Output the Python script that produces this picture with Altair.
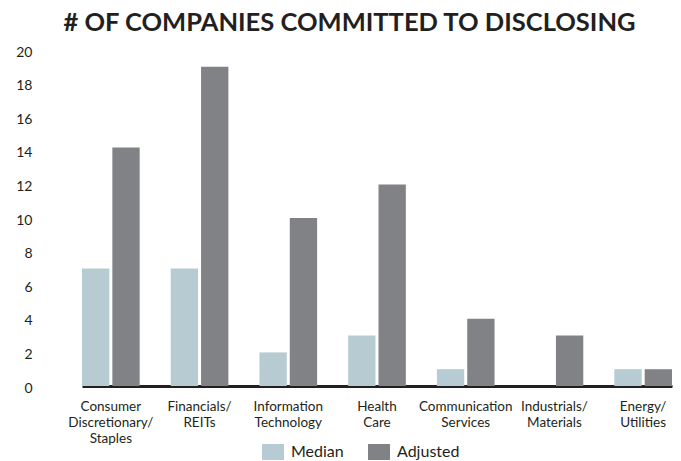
import altair as alt
import pandas as pd

categories = [
    "Consumer\nDiscretionary/\nStaples",
    "Financials/\nREITs",
    "Information\nTechnology",
    "Health\nCare",
    "Communication\nServices",
    "Industrials/\nMaterials",
    "Energy/\nUtilities",
]
median_vals = [7, 7, 2, 3, 1, 0, 1]
adjusted_vals = [14.2, 19, 10, 12, 4, 3, 1]
series = ["Median", "Adjusted"]
colors = ["#b7cbd3", "#818285"]
y_ticks = list(range(0, 21, 2))

rows = []
for c, m, a in zip(categories, median_vals, adjusted_vals):
    rows.append({"category": c, "series": "Median", "value": m})
    rows.append({"category": c, "series": "Adjusted", "value": a})
df = pd.DataFrame(rows)

FONT = "Lato"
TXT = "#231f20"

chart = alt.Chart(df).mark_bar().encode(
    x=alt.X("category:N", sort=categories,
            scale=alt.Scale(range=[44, 634], paddingInner=0.35, paddingOuter=0),
            axis=alt.Axis(title=None, labelAngle=0, ticks=False, domain=True,
                          domainColor=TXT, domainWidth=3,
                          labelExpr="split(datum.label, '\\n')",
                          labelFont=FONT, labelFontSize=13.5, labelColor=TXT,
                          labelLineHeight=16, labelPadding=13,
                          labelBaseline="top")),
    xOffset=alt.XOffset("series:N", sort=series,
                        scale=alt.Scale(paddingInner=0.1, paddingOuter=0)),
    y=alt.Y("value:Q", scale=alt.Scale(domain=[0, 20], nice=False),
            axis=alt.Axis(title=None, values=y_ticks, grid=False, domain=False,
                          ticks=False, labelFont=FONT, labelFontSize=14,
                          labelColor=TXT, labelPadding=6, labelOffset=2)),
    color=alt.Color("series:N", sort=series,
                    scale=alt.Scale(domain=series, range=colors),
                    legend=alt.Legend(title=None, orient="none", direction="horizontal",
                                      legendX=224, legendY=391,
                                      symbolType="M-1,-0.727H1V0.727H-1Z",
                                      symbolSize=484, symbolStrokeWidth=0,
                                      symbolOpacity=1,
                                      labelFont=FONT, labelFontSize=16,
                                      labelColor=TXT, columnPadding=24,
                                      symbolOffset=0, labelOffset=7)),
).properties(
    width=635,
    height=336,
    title=alt.TitleParams("# OF COMPANIES COMMITTED TO DISCLOSING",
                          font=FONT, fontSize=25.5, fontWeight="bold",
                          color=TXT, anchor="middle", dx=-6, offset=9),
    autosize=alt.AutoSizeParams(type="none"),
    padding={"left": 30, "top": 42, "right": 0, "bottom": 74},
).configure_view(stroke=None)

chart.save("out.html", embed_options={"renderer": "svg", "actions": False})
